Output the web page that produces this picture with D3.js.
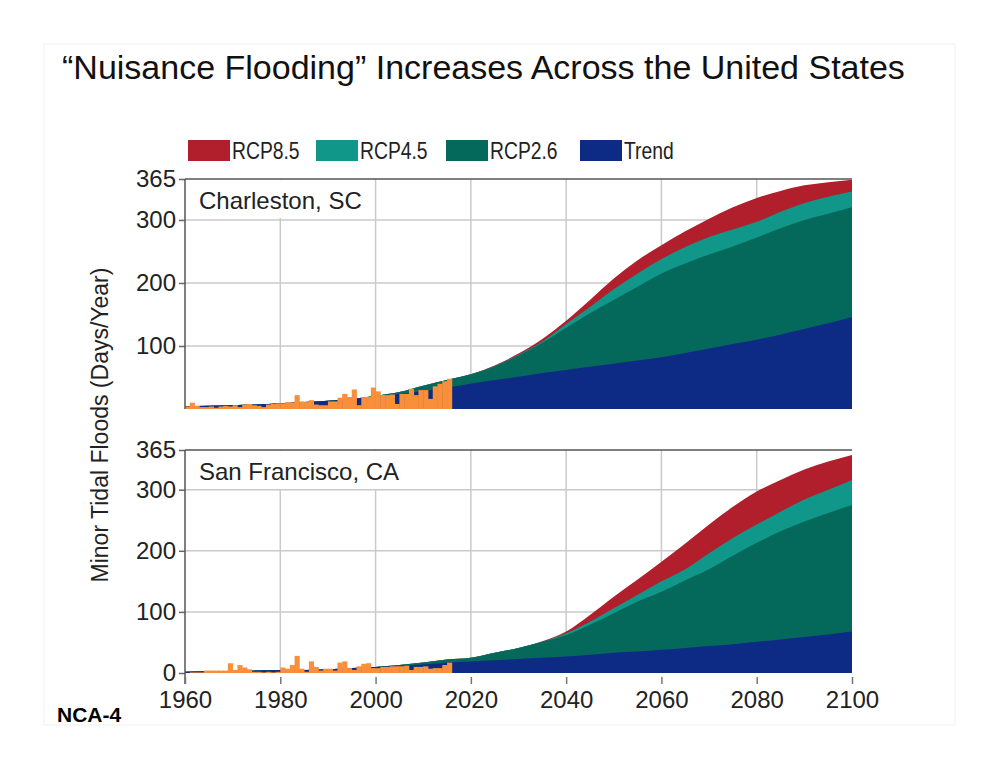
<!DOCTYPE html>
<html>
<head>
<meta charset="utf-8">
<script src="https://cdn.jsdelivr.net/npm/d3@7"></script>
<style>
  body { margin: 0; background: #fff; }
  svg { display: block; }
  text { font-family: "Liberation Sans", Arial, sans-serif; fill: #222; }
</style>
</head>
<body>
<div id="chart-area"></div>
<script>
// years of the projection readings (every 5 years)
const years = [1960, 1965, 1970, 1975, 1980, 1985, 1990, 1995, 2000, 2005, 2010, 2015, 2020,
    2025, 2030, 2035, 2040, 2045, 2050, 2055, 2060, 2065, 2070, 2075, 2080, 2085, 2090, 2095, 2100];
const obsYears = d3.range(1960, 2016);

const seriesNames = ["RCP8.5", "RCP4.5", "RCP2.6", "Trend"];
const yTicks = [0, 100, 200, 300, 365];
const xTicks = [1960, 1980, 2000, 2020, 2040, 2060, 2080, 2100];

// Charleston, SC
const chsObs = [4, 10, 5, 3, 3, 4, 2, 4, 5, 4,
    6, 3, 7, 8, 6, 5, 3, 7, 8, 9,
    9, 11, 10, 22, 12, 11, 14, 7, 6, 6,
    12, 12, 18, 24, 19, 31, 6, 19, 19, 34,
    28, 22, 22, 23, 8, 24, 24, 32, 22, 30,
    30, 16, 36, 40, 44, 48];
const chsTrend = [4, 5, 6, 7, 9, 11, 13, 16, 20, 24, 28, 34, 40,
    46, 51, 57, 62, 67, 72, 77, 82, 89, 96, 103, 110, 118, 127, 136, 146];
const chsRcp26 = [4, 5, 6, 7, 9, 11, 13, 16, 21, 27, 37, 46, 55,
    68, 85, 105, 129, 152, 173, 194, 215, 231, 245, 258, 272, 287, 300, 310, 320];
const chsRcp45 = [4, 5, 6, 7, 9, 11, 13, 16, 21, 27, 37, 46, 55,
    68, 86, 107, 135, 162, 190, 215, 238, 257, 273, 285, 297, 313, 327, 337, 345];
const chsRcp85 = [4, 5, 6, 7, 9, 11, 13, 16, 21, 27, 37, 46, 55,
    69, 88, 111, 140, 173, 207, 236, 260, 282, 302, 320, 335, 346, 355, 360, 364];

// San Francisco, CA
const sfObs = [0, 1, 1, 1, 4, 4, 4, 4, 4, 16,
    5, 13, 9, 6, 2, 2, 1, 2, 1, 2,
    9, 7, 13, 28, 7, 2, 19, 10, 4, 7,
    7, 4, 17, 19, 8, 5, 11, 15, 16, 8,
    8, 10, 10, 11, 11, 11, 12, 5, 10, 10,
    11, 7, 8, 8, 13, 17];
const sfTrend = [2, 3, 3, 4, 5, 5, 6, 8, 10, 12, 14, 17, 19,
    21, 23, 25, 27, 30, 33, 35, 38, 41, 44, 47, 51, 55, 59, 63, 68];
const sfRcp26 = [2, 3, 3, 4, 5, 5, 6, 8, 10, 13, 17, 22, 25,
    33, 41, 51, 62, 79, 98, 117, 133, 152, 170, 192, 213, 232, 248, 262, 275];
const sfRcp45 = [2, 3, 3, 4, 5, 5, 6, 8, 10, 13, 17, 22, 25,
    33, 41, 51, 65, 84, 106, 128, 150, 170, 196, 221, 243, 264, 284, 300, 316];
const sfRcp85 = [2, 3, 3, 4, 5, 5, 6, 8, 10, 13, 17, 22, 25,
    33, 41, 52, 68, 95, 125, 153, 182, 212, 243, 272, 297, 316, 333, 346, 357];

const colors = { "RCP8.5": "#b01f2b", "RCP4.5": "#10978a", "RCP2.6": "#04695b", "Trend": "#0d2a84", obs: "#fa8f3b" };

const width = 1000;
const height = 773;

const svg = d3.select('#chart-area')
    .append('svg')
    .attr('width', width)
    .attr('height', height);

svg.append('rect')
    .attr('x', 44).attr('y', 44)
    .attr('width', 911).attr('height', 681)
    .attr('fill', '#fff')
    .attr('stroke', '#f0f0f0');

// title
svg.append('text')
    .attr('x', 62)
    .attr('y', 79)
    .style('font-size', '34px')
    .style('fill', '#111')
    .text("\u201CNuisance Flooding\u201D Increases Across the United States");

// legend (text is a bit condensed in the original)
const legendX = [188, 316, 446, 580];
seriesNames.forEach((name, i) => {
    svg.append('rect')
        .attr('x', legendX[i]).attr('y', 140)
        .attr('width', 42).attr('height', 21)
        .attr('fill', colors[name]);
    svg.append('text')
        .attr('transform', `translate(${legendX[i] + 44}, 159) scale(0.84, 1)`)
        .style('font-size', '23px')
        .text(name);
});

const x = d3.scaleLinear().domain([1960, 2100]).range([185, 852]);

const panels = [
    { name: "Charleston, SC", top: 179, bottom: 409, obs: chsObs,
      series: [chsRcp85, chsRcp45, chsRcp26, chsTrend], ticks: yTicks.slice(1), xAxis: false },
    { name: "San Francisco, CA", top: 450, bottom: 673, obs: sfObs,
      series: [sfRcp85, sfRcp45, sfRcp26, sfTrend], ticks: yTicks, xAxis: true }
];

panels.forEach((p, pi) => {
    const y = d3.scaleLinear().domain([0, 365]).range([p.bottom, p.top]);
    const g = svg.append('g');

    const clipId = 'clip' + pi;
    svg.append('clipPath').attr('id', clipId)
        .append('rect')
        .attr('x', x(1960)).attr('y', p.top)
        .attr('width', x(2100) - x(1960)).attr('height', p.bottom - p.top);

    // grid
    g.selectAll('.hgrid')
        .data([100, 200, 300])
        .enter().append('line')
        .attr('x1', x(1960)).attr('x2', x(2100))
        .attr('y1', d => y(d)).attr('y2', d => y(d))
        .attr('stroke', '#cacaca').attr('stroke-width', 1.5);
    g.selectAll('.vgrid')
        .data(xTicks.slice(1, -1))
        .enter().append('line')
        .attr('x1', d => x(d)).attr('x2', d => x(d))
        .attr('y1', p.top).attr('y2', p.bottom)
        .attr('stroke', '#cacaca').attr('stroke-width', 1.5);

    const data = g.append('g').attr('clip-path', `url(#${clipId})`);

    const area = d3.area()
        .x((d, i) => x(years[i]))
        .y0(y(0))
        .y1(d => y(d))
        .curve(d3.curveMonotoneX);

    p.series.forEach((s, i) => {
        data.append('path')
            .datum(s)
            .attr('d', area)
            .attr('fill', colors[seriesNames[i]]);
    });

    // observed floods, one bar per year
    data.selectAll('.obs')
        .data(p.obs)
        .enter().append('rect')
        .attr('x', (d, i) => x(obsYears[i]))
        .attr('width', (d, i) => x(obsYears[i] + 1) - x(obsYears[i]) + 0.4)
        .attr('y', d => y(d))
        .attr('height', d => y(0) - y(d))
        .attr('fill', colors.obs);

    // city label on a white box
    const lbl = g.append('text')
        .attr('x', 199)
        .attr('y', p.top + 30)
        .style('font-size', '24px')
        .text(p.name);
    const bb = lbl.node().getBBox();
    g.insert('rect', 'text')
        .attr('x', x(1960) + 1).attr('y', p.top + 1)
        .attr('width', bb.x + bb.width + 6 - x(1960))
        .attr('height', 38)
        .attr('fill', '#fff');

    // y axis
    const yAxis = d3.axisLeft(y)
        .tickValues(p.ticks)
        .tickSize(6)
        .tickPadding(3);
    const ya = g.append('g')
        .attr('transform', `translate(${x(1960)}, 0)`)
        .call(yAxis);
    ya.select('.domain').remove();
    ya.selectAll('line').attr('stroke', '#666').attr('stroke-width', 1.5);
    ya.selectAll('text').style('font-size', '24px').attr('fill', '#222');

    // frame: top and left
    g.append('line')
        .attr('x1', x(1960)).attr('x2', x(2100))
        .attr('y1', p.top).attr('y2', p.top)
        .attr('stroke', '#555').attr('stroke-width', 1.5);
    g.append('line')
        .attr('x1', x(1960)).attr('x2', x(1960))
        .attr('y1', p.top).attr('y2', p.xAxis ? p.bottom + 11 : p.bottom)
        .attr('stroke', '#555').attr('stroke-width', 1.5);

    if (p.xAxis) {
        const xAxis = d3.axisBottom(x)
            .tickValues(xTicks)
            .tickFormat(d3.format('d'))
            .tickSize(7)
            .tickPadding(7);
        const xa = g.append('g')
            .attr('transform', `translate(0, ${p.bottom + 4})`)
            .call(xAxis);
        xa.select('.domain').remove();
        xa.selectAll('line').attr('stroke', '#777').attr('stroke-width', 1.5);
        xa.selectAll('text').style('font-size', '24px').attr('fill', '#222');
    }
});

// y axis title
svg.append('text')
    .attr('transform', 'translate(108, 425) rotate(-90)')
    .attr('text-anchor', 'middle')
    .style('font-size', '23px')
    .text("Minor Tidal Floods (Days/Year)");

svg.append('text')
    .attr('x', 57)
    .attr('y', 722)
    .style('font-size', '21px')
    .style('font-weight', 'bold')
    .style('fill', '#000')
    .text("NCA-4");
</script>
</body>
</html>
